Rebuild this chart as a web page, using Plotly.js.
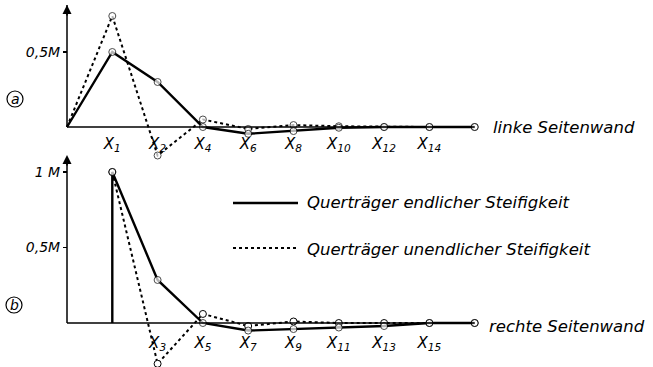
<!DOCTYPE html>
<html>
<head>
<meta charset="utf-8">
<script src="https://cdn.plot.ly/plotly-3.0.1.min.js"></script>
<style>html,body{margin:0;padding:0;background:#fff;}#chart{width:653px;height:367px;}</style>
</head>
<body>
<div id="chart"></div>
<script>
// Panel a (linke Seitenwand)
const posA = [0, 1, 2, 3, 4, 5, 6, 7, 8, 9];
const solidA = [0, 0.50, 0.30, 0.0, -0.045, -0.027, -0.005, 0, 0, 0];
const dottedA = [0, 0.74, -0.19, 0.05, -0.013, 0.013, 0.005, 0, 0, 0];
const markA = [0, 7, 7, 7, 7, 7, 7, 7, 7, 7];
const tickPosA = [1, 2, 3, 4, 5, 6, 7, 8];
const tickTextA = ['X<sub>1</sub>', 'X<sub>2</sub>', 'X<sub>4</sub>', 'X<sub>6</sub>', 'X<sub>8</sub>', 'X<sub>10</sub>', 'X<sub>12</sub>', 'X<sub>14</sub>'];
// Panel b (rechte Seitenwand)
const posBSolid = [1, 1, 2, 3, 4, 5, 6, 7, 8, 9];
const solidB = [0, 1.0, 0.285, 0.0, -0.05, -0.04, -0.03, -0.02, 0, 0];
const markBSolid = [0, 7, 7, 7, 7, 7, 7, 7, 7, 7];
const posBDotted = [1, 2, 3, 4, 5, 6, 7, 8, 9];
const dottedB = [1.0, -0.27, 0.06, -0.02, 0.01, 0, 0, 0, 0];
const tickPosB = [2, 3, 4, 5, 6, 7, 8];
const tickTextB = ['X<sub>3</sub>', 'X<sub>5</sub>', 'X<sub>7</sub>', 'X<sub>9</sub>', 'X<sub>11</sub>', 'X<sub>13</sub>', 'X<sub>15</sub>'];
const legendLabels = ['Querträger endlicher Steifigkeit', 'Querträger unendlicher Steifigkeit'];

const W = 653, H = 367;
const x0px = 67, dx = 45.3;
const xRange = [-x0px / dx, (W - x0px) / dx];
const splitPx = 160;
const baseA = 127, scaleA = 150;
const baseB = 323, scaleB = 151;
const FONT = 'DejaVu Sans';
const font = (s) => ({family: FONT, size: s, color: '#000', style: 'italic'});
const px = (p) => p / W;
const py = (p) => 1 - p / H;

const markerStyle = (sizes) => ({symbol: 'circle', size: sizes, color: '#fff', line: {color: '#000', width: 1}});

const traces = [
  {x: posA, y: dottedA, xaxis: 'x', yaxis: 'y', mode: 'lines+markers', line: {color: '#000', width: 2, dash: 'dot'}, marker: markerStyle(markA), showlegend: false, hoverinfo: 'skip'},
  {x: posA, y: solidA, xaxis: 'x', yaxis: 'y', mode: 'lines+markers', line: {color: '#000', width: 2.4}, marker: markerStyle(markA), showlegend: false, hoverinfo: 'skip'},
  {x: posBDotted, y: dottedB, xaxis: 'x2', yaxis: 'y2', mode: 'lines+markers', line: {color: '#000', width: 2, dash: 'dot'}, marker: markerStyle(7), showlegend: false, hoverinfo: 'skip'},
  {x: posBSolid, y: solidB, xaxis: 'x2', yaxis: 'y2', mode: 'lines+markers', line: {color: '#000', width: 2.4}, marker: markerStyle(markBSolid), showlegend: false, hoverinfo: 'skip'}
];

const topA = (baseA - 5) / scaleA;
const topB = (baseB - 155) / scaleB;

const axisCommonX = {range: xRange, domain: [0, 1], showgrid: false, zeroline: false, showline: false, ticks: 'outside', ticklen: 3, tickcolor: 'rgba(0,0,0,0)', tickmode: 'array', tickfont: font(15), fixedrange: true};
const axisCommonY = {showgrid: false, zeroline: false, showline: false, ticks: 'outside', ticklen: 4, tickwidth: 1.2, tickcolor: '#000', tickmode: 'array', tickfont: font(14), anchor: 'free', position: x0px / W, fixedrange: true};

const layout = {
  width: W, height: H,
  margin: {l: 0, r: 0, t: 0, b: 0, pad: 0},
  paper_bgcolor: '#fff', plot_bgcolor: 'rgba(0,0,0,0)',
  showlegend: false,
  xaxis: Object.assign({}, axisCommonX, {anchor: 'free', position: py(baseA), tickvals: tickPosA, ticktext: tickTextA}),
  yaxis: Object.assign({}, axisCommonY, {domain: [py(splitPx), 1], range: [(baseA - splitPx) / scaleA, baseA / scaleA], tickvals: [0.5], ticktext: ['0,5M']}),
  xaxis2: Object.assign({}, axisCommonX, {anchor: 'free', position: py(baseB), ticklen: 6, tickvals: tickPosB, ticktext: tickTextB}),
  yaxis2: Object.assign({}, axisCommonY, {domain: [0, py(splitPx)], range: [(baseB - H) / scaleB, (baseB - splitPx) / scaleB], tickvals: [0.5, 1], ticktext: ['0,5M', '1 M']}),
  shapes: [
    {type: 'line', xref: 'x', yref: 'y', x0: 0, x1: 0, y0: 0, y1: topA, line: {color: '#000', width: 1.5}},
    {type: 'line', xref: 'x', yref: 'y', x0: 0, x1: 9, y0: 0, y1: 0, line: {color: '#000', width: 1.6}},
    {type: 'line', xref: 'x2', yref: 'y2', x0: 0, x1: 0, y0: 0, y1: topB, line: {color: '#000', width: 1.5}},
    {type: 'line', xref: 'x2', yref: 'y2', x0: 0, x1: 9, y0: 0, y1: 0, line: {color: '#000', width: 1.6}},
    {type: 'line', xref: 'paper', yref: 'paper', x0: px(233), x1: px(298), y0: py(203), y1: py(203), line: {color: '#000', width: 2.4}},
    {type: 'line', xref: 'paper', yref: 'paper', x0: px(233), x1: px(297), y0: py(248), y1: py(248), line: {color: '#000', width: 2, dash: 'dot'}},
    {type: 'circle', xref: 'paper', yref: 'paper', x0: px(7), x1: px(23), y0: py(107), y1: py(91), line: {color: '#000', width: 1.2}},
    {type: 'circle', xref: 'paper', yref: 'paper', x0: px(6), x1: px(22), y0: py(313), y1: py(297), line: {color: '#000', width: 1.2}}
  ],
  annotations: [
    {xref: 'x', yref: 'y', x: 0, y: topA, ax: 0, ay: topA - 0.08, axref: 'x', ayref: 'y', text: '', showarrow: true, arrowhead: 2, arrowsize: 1.2, arrowwidth: 1.5, arrowcolor: '#000'},
    {xref: 'x2', yref: 'y2', x: 0, y: topB, ax: 0, ay: topB - 0.08, axref: 'x2', ayref: 'y2', text: '', showarrow: true, arrowhead: 2, arrowsize: 1.2, arrowwidth: 1.5, arrowcolor: '#000'},
    {xref: 'paper', yref: 'paper', x: px(305), y: py(202), xanchor: 'left', yanchor: 'middle', text: legendLabels[0], showarrow: false, font: font(16.5)},
    {xref: 'paper', yref: 'paper', x: px(305), y: py(250), xanchor: 'left', yanchor: 'middle', text: legendLabels[1], showarrow: false, font: font(16.5)},
    {xref: 'paper', yref: 'paper', x: px(491), y: py(127), xanchor: 'left', yanchor: 'middle', text: 'linke Seitenwand', showarrow: false, font: font(16.5)},
    {xref: 'paper', yref: 'paper', x: px(487), y: py(326), xanchor: 'left', yanchor: 'middle', text: 'rechte Seitenwand', showarrow: false, font: font(16.5)},
    {xref: 'paper', yref: 'paper', x: px(15), y: py(99), xanchor: 'center', yanchor: 'middle', text: 'a', showarrow: false, font: font(14)},
    {xref: 'paper', yref: 'paper', x: px(14), y: py(305), xanchor: 'center', yanchor: 'middle', text: 'b', showarrow: false, font: font(14)}
  ]
};

Plotly.newPlot('chart', traces, layout, {staticPlot: true, displayModeBar: false});
</script>
</body>
</html>
